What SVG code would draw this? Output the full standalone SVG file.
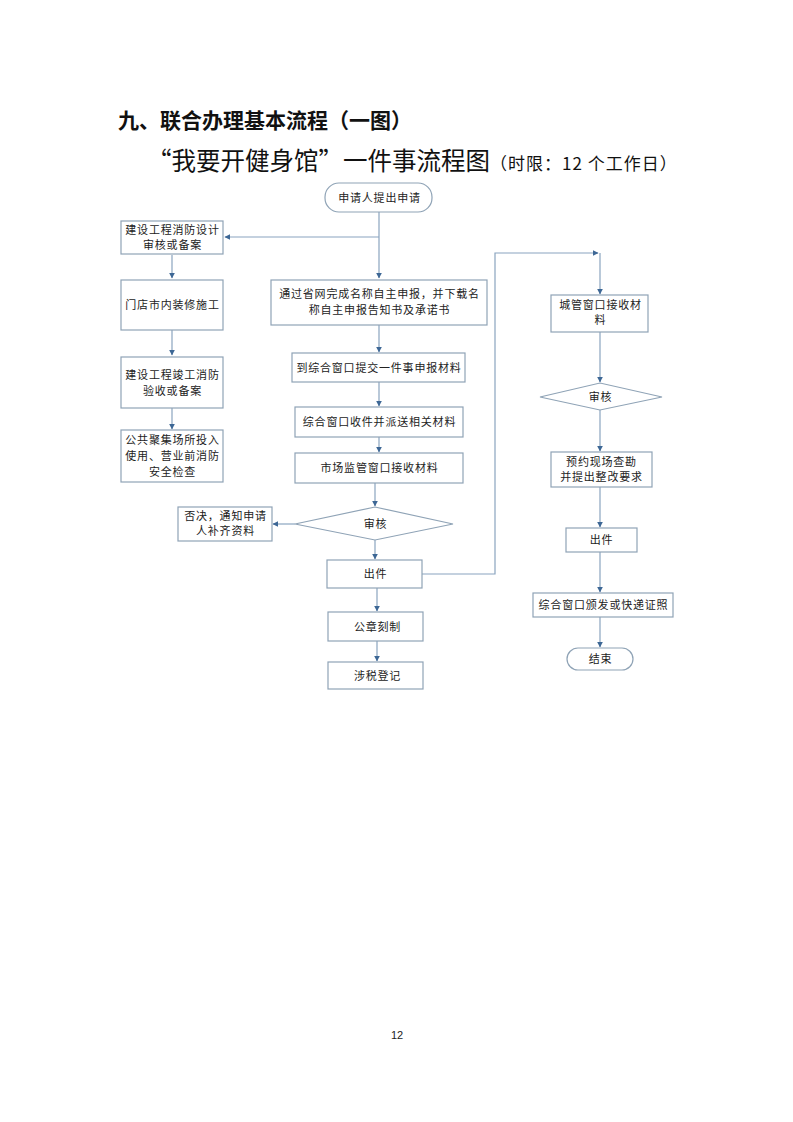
<svg xmlns="http://www.w3.org/2000/svg" width="793" height="1122" viewBox="0 0 793 1122">
<style>
.box{fill:#fff;stroke:#8fa3b6;stroke-width:1.2}
.t{font-family:"Noto Sans CJK SC","Liberation Sans",sans-serif;font-size:11px;fill:#222;text-anchor:middle;letter-spacing:0.8px}
.ln{fill:none;stroke:#8aa4bf;stroke-width:1.2}
</style>
<defs>
<marker id="ar" viewBox="0 0 10 10" refX="9" refY="5" markerWidth="6" markerHeight="6" orient="auto" markerUnits="userSpaceOnUse">
<path d="M0,0 L10,5 L0,10 z" fill="#3d6795"/>
</marker>
</defs>
<rect width="793" height="1122" fill="#fff"/>
<text x="118" y="128" font-family="Noto Sans CJK SC,sans-serif" font-size="21" font-weight="bold" fill="#111">九、联合办理基本流程（一图）</text>
<text x="147" y="170" font-family="Noto Sans CJK SC,sans-serif" font-size="24.5" fill="#111">“我要开健身馆”一件事流程图<tspan font-size="17" letter-spacing="1">（时限：12 个工作日）</tspan></text>

<g id="connectors">
<path class="ln" d="M379,212 V278" marker-end="url(#ar)"/>
<path class="ln" d="M379,237 H225" marker-end="url(#ar)"/>
<path class="ln" d="M172,255 V278" marker-end="url(#ar)"/>
<path class="ln" d="M172,330 V355" marker-end="url(#ar)"/>
<path class="ln" d="M172,408 V429" marker-end="url(#ar)"/>
<path class="ln" d="M379,325 V352" marker-end="url(#ar)"/>
<path class="ln" d="M379,382 V406" marker-end="url(#ar)"/>
<path class="ln" d="M379,437 V452" marker-end="url(#ar)"/>
<path class="ln" d="M375,483 V506" marker-end="url(#ar)"/>
<path class="ln" d="M295,524 H273" marker-end="url(#ar)"/>
<path class="ln" d="M375,540 V559" marker-end="url(#ar)"/>
<path class="ln" d="M377,588 V611" marker-end="url(#ar)"/>
<path class="ln" d="M377,641 V661" marker-end="url(#ar)"/>
<path class="ln" d="M422,574 H495 V253 H598" marker-end="url(#ar)"/>
<path class="ln" d="M600,253 V294" marker-end="url(#ar)"/>
<path class="ln" d="M600,332 V382" marker-end="url(#ar)"/>
<path class="ln" d="M600,410 V451" marker-end="url(#ar)"/>
<path class="ln" d="M600,487 V527" marker-end="url(#ar)"/>
<path class="ln" d="M600,552 V592" marker-end="url(#ar)"/>
<path class="ln" d="M600,617 V647" marker-end="url(#ar)"/>
</g>

<g id="start">
<rect class="box" x="325" y="183" width="107" height="29" rx="14"/>
<text class="t" x="379.5" y="202">申请人提出申请</text>
</g>
<g id="L1">
<rect class="box" x="121" y="221" width="102" height="33"/>
<text class="t" x="172.5" y="234">建设工程消防设计</text>
<text class="t" x="172.5" y="249">审核或备案</text>
</g>
<g id="L2">
<rect class="box" x="121" y="280" width="102" height="50"/>
<text class="t" x="172.5" y="309">门店市内装修施工</text>
</g>
<g id="L3">
<rect class="box" x="121" y="357" width="102" height="51"/>
<text class="t" x="172.5" y="379">建设工程竣工消防</text>
<text class="t" x="172.5" y="395">验收或备案</text>
</g>
<g id="L4">
<rect class="box" x="121" y="430" width="102" height="52"/>
<text class="t" x="172.5" y="444">公共聚集场所投入</text>
<text class="t" x="172.5" y="460">使用、营业前消防</text>
<text class="t" x="172.5" y="476">安全检查</text>
</g>
<g id="C1">
<rect class="box" x="271" y="280" width="216" height="45"/>
<text class="t" x="379.5" y="298">通过省网完成名称自主申报，并下载名</text>
<text class="t" x="379.5" y="314">称自主申报告知书及承诺书</text>
</g>
<g id="C2">
<rect class="box" x="292" y="353" width="173" height="29"/>
<text class="t" x="379" y="372">到综合窗口提交一件事申报材料</text>
</g>
<g id="C3">
<rect class="box" x="295" y="407" width="168" height="30"/>
<text class="t" x="379.5" y="426">综合窗口收件并派送相关材料</text>
</g>
<g id="C4">
<rect class="box" x="295" y="453" width="168" height="30"/>
<text class="t" x="379.5" y="472">市场监管窗口接收材料</text>
</g>
<g id="D1">
<polygon class="box" points="295,524 375,507 453,524 375,540"/>
<text class="t" x="375.5" y="528">审核</text>
</g>
<g id="reject">
<rect class="box" x="178" y="507" width="94" height="34"/>
<text class="t" x="225.5" y="520">否决，通知申请</text>
<text class="t" x="225.5" y="535">人补齐资料</text>
</g>
<g id="C5">
<rect class="box" x="327" y="560" width="95" height="28"/>
<text class="t" x="375.5" y="578">出件</text>
</g>
<g id="C6">
<rect class="box" x="328" y="612" width="95" height="29"/>
<text class="t" x="377.5" y="631">公章刻制</text>
</g>
<g id="C7">
<rect class="box" x="328" y="662" width="95" height="27"/>
<text class="t" x="377.5" y="680">涉税登记</text>
</g>
<g id="R1">
<rect class="box" x="551" y="295" width="97" height="37"/>
<text class="t" x="600.5" y="309">城管窗口接收材</text>
<text class="t" x="600.5" y="324">料</text>
</g>
<g id="D2">
<polygon class="box" points="540,397 600,383 662,397 600,410"/>
<text class="t" x="600.5" y="401">审核</text>
</g>
<g id="R2">
<rect class="box" x="551" y="452" width="101" height="35"/>
<text class="t" x="601.5" y="466">预约现场查勘</text>
<text class="t" x="601.5" y="481">并提出整改要求</text>
</g>
<g id="R3">
<rect class="box" x="566" y="528" width="71" height="24"/>
<text class="t" x="601.5" y="544">出件</text>
</g>
<g id="R4">
<rect class="box" x="533" y="593" width="140" height="24"/>
<text class="t" x="603.5" y="609">综合窗口颁发或快递证照</text>
</g>
<g id="end">
<rect class="box" x="567" y="648" width="66" height="22" rx="11"/>
<text class="t" x="600.5" y="663">结束</text>
</g>
<text x="397" y="1039" font-family="Liberation Sans,sans-serif" font-size="11" fill="#222" text-anchor="middle">12</text>
</svg>
